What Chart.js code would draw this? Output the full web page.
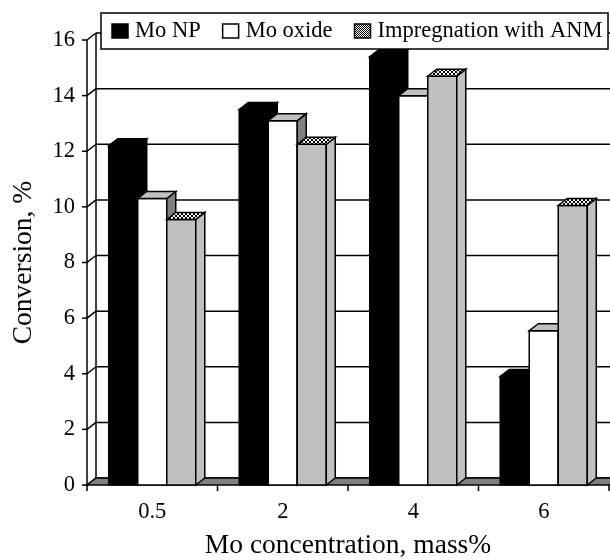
<!DOCTYPE html>
<html>
<head>
<meta charset="utf-8">
<script src="https://cdn.jsdelivr.net/npm/chart.js@4.4.0/dist/chart.umd.min.js"></script>
<style>
  body { margin: 0; background: #fff; }
</style>
</head>
<body>
<canvas id="stage" width="610" height="560"></canvas>
<script>
// data
const labels = ['0.5', '2', '4', '6'];
const moNP = [12.2, 13.5, 15.4, 3.9];
const moOxide = [10.3, 13.1, 14.0, 5.55];
const anm = [9.55, 12.25, 14.7, 10.05];
const seriesNames = ['Mo NP', 'Mo oxide', 'Impregnation with ANM'];

const FONT = '"Liberation Serif", "Times New Roman", serif';
// depth of the 3D box
const DX = 9, DY = -7;

// small patterns
function makePattern(size, dots) {
  const c = document.createElement('canvas');
  c.width = size; c.height = size;
  const g = c.getContext('2d');
  g.fillStyle = '#fff';
  g.fillRect(0, 0, size, size);
  g.fillStyle = '#000';
  dots.forEach(d => g.fillRect(d[0], d[1], 1, 1));
  return document.getElementById('stage').getContext('2d').createPattern(c, 'repeat');
}
const crossPat = makePattern(4, [[0,0],[1,1],[2,2],[3,3],[3,0],[2,1],[1,2],[0,3]]);
const checkPat = makePattern(2, [[0,0],[1,1]]);

function poly(ctx, pts, fill) {
  ctx.beginPath();
  ctx.moveTo(pts[0][0], pts[0][1]);
  for (let i = 1; i < pts.length; i++) ctx.lineTo(pts[i][0], pts[i][1]);
  ctx.closePath();
  ctx.fillStyle = fill;
  ctx.fill();
  ctx.stroke();
}
function line(ctx, x1, y1, x2, y2) {
  ctx.beginPath();
  ctx.moveTo(x1, y1);
  ctx.lineTo(x2, y2);
  ctx.stroke();
}

const box3d = {
  id: 'box3d',
  beforeDatasetsDraw(chart) {
    const ctx = chart.ctx, a = chart.chartArea, ys = chart.scales.y;
    const y0 = ys.getPixelForValue(0);
    ctx.save();
    ctx.lineWidth = 1.5;
    ctx.strokeStyle = '#000';
    // back wall grid + left wall
    ys.ticks.forEach(t => {
      const py = ys.getPixelForValue(t.value);
      line(ctx, a.left + DX, py + DY, chart.width, py + DY);
      line(ctx, a.left, py, a.left + DX, py + DY);
      line(ctx, a.left - 5, py, a.left, py);
    });
    line(ctx, a.left + DX, a.top + DY, a.left + DX, y0 + DY);
    line(ctx, a.left, a.top, a.left, y0);
    // floor
    poly(ctx, [[a.left, y0], [a.right, y0], [a.right + DX, y0 + DY], [a.left + DX, y0 + DY]], '#808080');
    // category ticks
    const n = labels.length, w = (a.right - a.left) / n;
    for (let i = 0; i <= n; i++) {
      line(ctx, a.left + i * w, y0, a.left + i * w, y0 + 6);
    }
    ctx.restore();
  },
  afterDatasetsDraw(chart) {
    // redraw bars left to right so each front hides its neighbour's side
    const ctx = chart.ctx;
    ctx.save();
    ctx.lineWidth = 1.5;
    ctx.strokeStyle = '#000';
    chart.data.datasets.forEach((ds, i) => {
      chart.getDatasetMeta(i).data.forEach(bar => {
        const p = bar.getProps(['x', 'y', 'base', 'width'], true);
        const l = p.x - p.width / 2, r = p.x + p.width / 2;
        poly(ctx, [[l, p.y], [r, p.y], [r, p.base], [l, p.base]], ds.backgroundColor);
        poly(ctx, [[r, p.y], [r + DX, p.y + DY], [r + DX, p.base + DY], [r, p.base]], ds.sideColor);
        poly(ctx, [[l, p.y], [r, p.y], [r + DX, p.y + DY], [l + DX, p.y + DY]], ds.topColor);
      });
    });
    ctx.restore();
  },
  afterDraw(chart) {
    // legend box
    const ctx = chart.ctx;
    ctx.save();
    ctx.lineWidth = 1.5;
    ctx.strokeStyle = '#000';
    ctx.fillStyle = '#fff';
    ctx.fillRect(101, 13, 507, 36);
    ctx.strokeRect(101, 13, 507, 36);
    ctx.font = '22.5px ' + FONT;
    ctx.textBaseline = 'middle';
    let x = 112;
    chart.data.datasets.forEach(ds => {
      ctx.fillStyle = ds.legendFill;
      ctx.fillRect(x, 24, 16, 14);
      ctx.strokeRect(x, 24, 16, 14);
      ctx.fillStyle = '#000';
      ctx.fillText(ds.label, x + 23, 31);
      x += 23 + ctx.measureText(ds.label).width + 22;
    });
    ctx.restore();
  }
};

new Chart(document.getElementById('stage'), {
  type: 'bar',
  data: {
    labels: labels,
    datasets: [
      { label: seriesNames[0], data: moNP, backgroundColor: '#000', sideColor: '#000', topColor: '#000', legendFill: '#000' },
      { label: seriesNames[1], data: moOxide, backgroundColor: '#fff', sideColor: '#808080', topColor: '#c0c0c0', legendFill: '#fff' },
      { label: seriesNames[2], data: anm, backgroundColor: '#c0c0c0', sideColor: '#c0c0c0', topColor: crossPat, legendFill: checkPat }
    ].map(d => Object.assign(d, { borderColor: '#000', borderWidth: 1.5, categoryPercentage: 0.667, barPercentage: 1 }))
  },
  options: {
    responsive: false,
    animation: false,
    layout: { padding: { top: 40, right: 1, left: 0, bottom: 0 } },
    plugins: { legend: { display: false }, tooltip: { enabled: false } },
    scales: {
      x: {
        grid: { display: false, drawTicks: false },
        border: { display: false },
        ticks: { color: '#000', padding: 14, font: { family: FONT, size: 22.5 } },
        title: { display: true, text: 'Mo concentration, mass%', color: '#000', padding: 0,
                 font: { family: FONT, size: 27.5, lineHeight: 1 } },
        afterFit(s) { s.height = 75; }
      },
      y: {
        min: 0, max: 16,
        grid: { display: false, drawTicks: false },
        border: { display: false },
        ticks: { stepSize: 2, color: '#000', padding: 12, font: { family: FONT, size: 22.5 } },
        title: { display: true, text: 'Conversion, %', color: '#000', padding: { top: 10, bottom: 0 },
                 font: { family: FONT, size: 27.5, lineHeight: 1 } },
        afterFit(s) { s.width = 87; }
      }
    }
  },
  plugins: [box3d]
});
</script>
</body>
</html>
